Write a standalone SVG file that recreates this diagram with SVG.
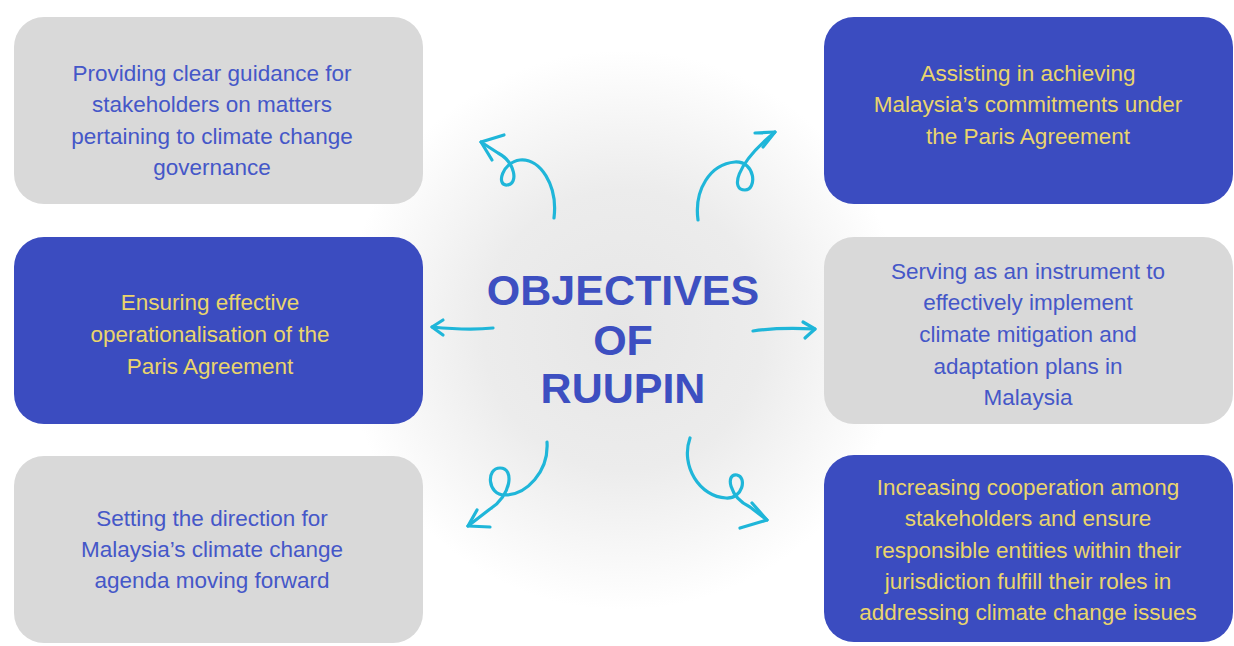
<svg xmlns="http://www.w3.org/2000/svg" width="1234" height="646" viewBox="0 0 1234 646">
<defs>
<radialGradient id="glow" cx="623" cy="330" r="280" gradientUnits="userSpaceOnUse">
<stop offset="0" stop-color="#e6e6e6"/>
<stop offset="0.5" stop-color="#ececec"/>
<stop offset="1" stop-color="#ffffff"/>
</radialGradient>
<style>
.grey{fill:#d9d9d9}
.blue{fill:#3b4cc0}
.t{font-family:"Liberation Sans",Arial,sans-serif;font-size:22.5px;text-anchor:middle}
.tg{fill:#4557c8}
.ty{fill:#ead56c}
.title{font-family:"Liberation Sans",Arial,sans-serif;font-weight:bold;font-size:43px;fill:#3d4fc1;text-anchor:middle}
.arr{fill:none;stroke:#1fb6d9;stroke-width:3.2;stroke-linecap:round;stroke-linejoin:round}
</style>
</defs>
<rect width="1234" height="646" fill="#ffffff"/>
<circle cx="623" cy="330" r="280" fill="url(#glow)"/>

<g id="node-guidance">
<rect class="grey" x="14" y="17" width="409" height="187" rx="30"/>
<text class="t tg" x="212"><tspan x="212" y="81">Providing clear guidance for</tspan><tspan x="212" y="112">stakeholders on matters</tspan><tspan x="212" y="144">pertaining to climate change</tspan><tspan x="212" y="175">governance</tspan></text>
</g>
<g id="node-operationalisation">
<rect class="blue" x="14" y="237" width="409" height="187" rx="30"/>
<text class="t ty" x="210"><tspan x="210" y="310">Ensuring effective</tspan><tspan x="210" y="342">operationalisation of the</tspan><tspan x="210" y="374">Paris Agreement</tspan></text>
</g>
<g id="node-direction">
<rect class="grey" x="14" y="456" width="409" height="187" rx="30"/>
<text class="t tg" x="212"><tspan x="212" y="526">Setting the direction for</tspan><tspan x="212" y="557">Malaysia’s climate change</tspan><tspan x="212" y="588">agenda moving forward</tspan></text>
</g>
<g id="node-commitments">
<rect class="blue" x="824" y="17" width="409" height="187" rx="30"/>
<text class="t ty" x="1028"><tspan x="1028" y="81">Assisting in achieving</tspan><tspan x="1028" y="112">Malaysia’s commitments under</tspan><tspan x="1028" y="144">the Paris Agreement</tspan></text>
</g>
<g id="node-instrument">
<rect class="grey" x="824" y="237" width="409" height="187" rx="30"/>
<text class="t tg" x="1028"><tspan x="1028" y="279">Serving as an instrument to</tspan><tspan x="1028" y="310">effectively implement</tspan><tspan x="1028" y="342">climate mitigation and</tspan><tspan x="1028" y="374">adaptation plans in</tspan><tspan x="1028" y="405">Malaysia</tspan></text>
</g>
<g id="node-cooperation">
<rect class="blue" x="824" y="455" width="409" height="187" rx="30"/>
<text class="t ty" x="1028"><tspan x="1028" y="495">Increasing cooperation among</tspan><tspan x="1028" y="526">stakeholders and ensure</tspan><tspan x="1028" y="558">responsible entities within their</tspan><tspan x="1028" y="589">jurisdiction fulfill their roles in</tspan><tspan x="1028" y="620">addressing climate change issues</tspan></text>
</g>
<g id="node-center">
<text class="title" x="623"><tspan x="623" y="305">OBJECTIVES</tspan><tspan x="623" y="355">OF</tspan><tspan x="623" y="403">RUUPIN</tspan></text>
</g>

<g id="connectors">
<path class="arr" d="M554,218 C558,185 540,158 520,160 C502,162 496,186 507,185 C519,184 515,162 498,153 L481,142"/>
<path class="arr" d="M504,135 L481,142 L492,160"/>
<path class="arr" d="M698,220 C694,190 710,164 735,162 C756,161 757,190 745,190 C731,190 734,166 775,132"/>
<path class="arr" d="M755,133 L775,132 L763,147"/>
<path class="arr" d="M493,328 C475,330 452,329 432,327"/>
<path class="arr" d="M443,320 L432,327 L443,335"/>
<path class="arr" d="M753,331 C773,328 795,328 815,329"/>
<path class="arr" d="M803,322 L815,329 L805,338"/>
<path class="arr" d="M547,442 C549,472 526,495 505,495 C487,495 486,468 500,468 C515,468 511,496 490,509 L468,526"/>
<path class="arr" d="M477,510 L468,526 L490,527"/>
<path class="arr" d="M690,438 C680,466 700,497 726,498 C743,499 747,477 737,475 C725,473 729,497 750,507 L767,520"/>
<path class="arr" d="M752,503 L767,520 L740,528"/>
</g>
</svg>
